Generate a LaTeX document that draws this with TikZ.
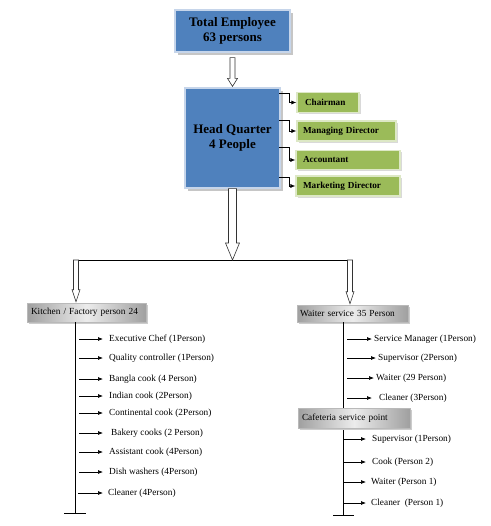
\documentclass[tikz,border=0pt]{standalone}
\usepackage{fontspec}
\setmainfont{Liberation Serif}
\usetikzlibrary{shadows,calc,arrows.meta}
\definecolor{hqblue}{HTML}{4F81BD}
\definecolor{hqedge}{HTML}{C6D5EA}
\definecolor{olivefill}{HTML}{9BBB59}
\definecolor{oliveedge}{HTML}{DDE8C6}
\tikzset{
  bluebox/.style={draw=hqedge, line width=1.2pt, fill=hqblue, align=center,
    font=\fontsize{13}{15}\selectfont\bfseries,
    drop shadow={shadow xshift=3pt, shadow yshift=-3pt, fill=gray!45, opacity=1}},
  greenbox/.style={draw=oliveedge, line width=1.2pt, fill=olivefill, align=left,
    inner xsep=0pt, inner ysep=0pt,
    font=\fontsize{9.2}{10}\selectfont\bfseries,
    drop shadow={shadow xshift=2pt, shadow yshift=-2pt, fill=gray!30, opacity=1}},
  graybox/.style={draw=gray!55, line width=0.6pt, left color=gray!75, right color=gray!75,
    middle color=gray!15, inner xsep=0pt, inner ysep=0pt, align=left,
    font=\fontsize{9.3}{10}\selectfont,
    drop shadow={shadow xshift=2pt, shadow yshift=-2pt, fill=gray!40, opacity=1}},
  lab/.style={anchor=west, inner sep=0pt, font=\fontsize{9.3}{10}\selectfont},
  itemarr/.style={line width=0.7pt, -{Latex[length=5pt,width=4pt]}},
  elbow/.style={line width=0.7pt, -{Latex[length=5pt,width=4pt]}},
  plain/.style={line width=0.8pt},
  hollow/.style={draw=black!80, line width=0.6pt, fill=white}
}
% hollow arrow: #1 start, #2 tip (straight down), #3 half shaft, #4 half head, #5 head length
\newcommand{\harrow}[5]{%
  \path[hollow] let \p1=(#1), \p2=(#2) in
    (\x1-#3pt,\y1) -- (\x1-#3pt,\y2+#5pt) -- (\x1-#4pt,\y2+#5pt) -- (\x1,\y2)
    -- (\x1+#4pt,\y2+#5pt) -- (\x1+#3pt,\y2+#5pt) -- (\x1+#3pt,\y1) -- cycle;}
% list item: #1 name, #2 y, #3 arrow start x, #4 arrow end x, #5 text x, #6 text
\newcommand{\listentry}[6]{%
  \node[lab] (#1) at (#5,#2) {#6};
  \coordinate (#1a) at (#3,#2);
  \draw[itemarr, shorten >={(#5-#4)*1pt}] (#1a) -- (#1.west);}
\begin{document}
\begin{tikzpicture}[x=1pt,y=-1pt]
\useasboundingbox (0,0) rectangle (490,526);

% top boxes
\node[bluebox, minimum width=115pt, minimum height=42pt] (tot) at (232.5,31) {Total Employee\\63 persons};
\node[bluebox, minimum width=95pt, minimum height=100pt] (hq) at (232.5,138) {Head Quarter\\4 People};

\harrow{$(tot.south)+(0,5)$}{$(hq.north)+(0,-1)$}{2.5}{5}{8}

% green boxes
\node[greenbox, minimum width=62pt, minimum height=20pt, text width=46pt] (chair) at (328,102.5) {Chairman};
\node[greenbox, minimum width=99pt, minimum height=20pt, text width=87pt] (md) at (346.5,131) {Managing Director};
\node[greenbox, minimum width=104pt, minimum height=19pt, text width=90pt] (acc) at (348,160) {Accountant};
\node[greenbox, minimum width=104pt, minimum height=20pt, text width=90pt] (mkt) at (348,186) {Marketing Director};

\coordinate (e1) at (279,93);
\coordinate (e2) at (279,120);
\coordinate (e3) at (279,147);
\coordinate (e4) at (279,177);
\draw[elbow] (e1) -| ($(chair.west)+(-7,0)$) -- (chair.west);
\draw[elbow] (e2) -| ($(md.west)+(-7,0)$) -- (md.west);
\draw[elbow] (e3) -| ($(acc.west)+(-6,0)$) -- (acc.west);
\draw[elbow] (e4) -| ($(mkt.west)+(-6,0)$) -- (mkt.west);

% split
\coordinate (split) at (232.5,260);
\coordinate (lsplit) at (76,260);
\coordinate (rsplit) at (350,260);
\draw[plain] (lsplit) -- (rsplit);
\harrow{hq.south}{split}{4}{7}{17}

% second-level boxes
\node[graybox, minimum width=119pt, minimum height=19pt, text width=111pt] (kit) at (86.5,312.5) {Kitchen / Factory person 24};
\node[graybox, minimum width=111pt, minimum height=17pt, text width=105pt] (wait) at (352.5,313.5) {Waiter service 35 Person};

\harrow{lsplit}{$(lsplit |- kit.north)+(0,-1)$}{2.5}{4}{12}
\harrow{rsplit}{$(rsplit |- wait.north)+(0,-1)$}{2.5}{4}{12}

% left column
\coordinate (lbot) at (75,513);
\draw[plain] (kit.south -| lbot) -- (lbot);
\draw[plain] ($(lbot)+(-11,0)$) -- ($(lbot)+(11,0)$);
\listentry{k1}{339}{79}{103}{109}{Executive Chef (1Person)}
\listentry{k2}{358}{79}{103}{109}{Quality controller (1Person)}
\listentry{k3}{379}{79}{103}{109}{Bangla cook (4 Person)}
\listentry{k4}{396}{79}{103}{109}{Indian cook (2Person)}
\listentry{k5}{413}{79}{103}{109}{Continental cook (2Person)}
\listentry{k6}{433}{79}{103}{111}{Bakery cooks (2 Person)}
\listentry{k7}{452}{79}{103}{109}{Assistant cook (4Person)}
\listentry{k8}{472}{79}{103}{109}{Dish washers (4Person)}
\listentry{k9}{493}{78}{103}{108}{Cleaner (4Person)}

% right column
\coordinate (rbot) at (343,515);
\draw[plain] (wait.south -| rbot) -- (rbot);
\draw[plain] ($(rbot)+(-10,0)$) -- ($(rbot)+(11,0)$);
\listentry{w1}{339}{347}{372}{374}{Service Manager (1Person)}
\listentry{w2}{358}{347}{376}{378}{Supervisor (2Person)}
\listentry{w3}{378}{347}{374}{376}{Waiter (29 Person)}
\listentry{w4}{398}{347}{372}{379}{Cleaner (3Person)}

\node[graybox, minimum width=112pt, minimum height=20pt, text width=104pt] (caf) at (354,418) {Cafeteria service point};

\listentry{c1}{439}{343}{366}{372}{Supervisor (1Person)}
\listentry{c2}{462}{343}{366}{372}{Cook (Person 2)}
\listentry{c3}{482}{343}{366}{371}{Waiter (Person 1)}
\listentry{c4}{503}{343}{366}{371}{Cleaner\ \ (Person 1)}
\end{tikzpicture}
\end{document}
